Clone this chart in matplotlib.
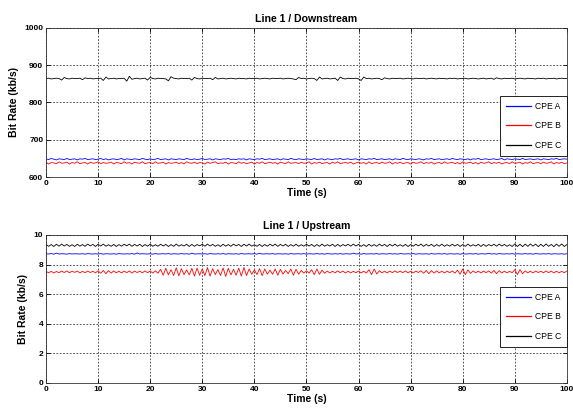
import numpy as np
import matplotlib
matplotlib.use('Agg')
import matplotlib.pyplot as plt

plt.rcParams['font.family'] = ['Liberation Sans', 'DejaVu Sans']

# time axis: one sample every 0.5 s
t = np.linspace(0, 100, 201)

# Downstream (kb/s): base level + deviations
down_base = {'CPE A': 648, 'CPE B': 638, 'CPE C': 864}
down_a = [1,-1,2,0,-2,1,0,-1,2,-1,0,1,-2,1,0,2,-1,0,1,-1,
          0,2,-1,1,-2,0,1,-1,0,2,-2,1,0,-1,1,0,-1,2,0,-1,
          1,-1,0,2,-1,0,1,-2,1,0,-1,1,0,-1,2,0,-1,1,-1,0,
          2,-1,0,1,-2,1,0,-1,1,0,2,-1,0,-1,1,0,1,-2,1,0,
          -1,1,0,2,-1,0,1,-1,0,1,-2,1,0,-1,2,0,-1,1,0,-1,
          1,0,-1,2,-1,0,1,-2,1,0,-1,1,0,2,-1,0,1,-1,0,1,
          -2,1,0,-1,1,0,2,-1,0,1,-1,0,1,-2,1,0,-1,2,0,-1,
          1,0,-1,1,0,-2,1,0,2,-1,0,1,-1,0,1,-1,2,0,-1,1,
          0,-1,1,-2,1,0,2,-1,0,1,-1,0,1,-1,0,2,-2,1,0,-1,
          1,0,-1,2,-1,0,1,-1,0,1,-2,1,0,-1,1,0,2,-1,0,1,0]
down_b = [2,-3,1,0,-2,3,-1,0,2,-3,1,-1,3,-2,0,1,-3,2,-1,0,
          3,-2,1,-1,0,2,-3,1,0,-2,3,-1,1,-3,2,0,-1,3,-2,0,
          1,-2,3,-1,0,2,-3,1,-1,0,2,-2,1,-3,3,0,-1,2,-2,1,
          0,-3,2,-1,1,3,-2,0,-1,2,-3,1,0,-2,3,-1,1,-2,0,2,
          -3,1,-1,3,-2,0,2,-1,1,-3,2,0,-2,3,-1,0,1,-2,2,-1,
          0,3,-3,1,-1,2,-2,0,1,-3,2,-1,3,-2,0,1,-1,2,-3,0,
          2,-1,1,-3,3,-2,0,1,-2,2,-1,0,3,-3,1,-1,2,-2,0,1,
          -3,2,-1,0,3,-2,1,-1,2,-3,0,1,-2,3,-1,0,2,-2,1,-3,
          3,-1,0,2,-2,1,-3,2,-1,0,3,-2,1,-1,2,-3,0,1,-2,3,
          -1,0,2,-3,1,-1,3,-2,0,1,-2,2,-1,0,3,-3,1,-1,2,-2,0]
down_c = [0,1,-1,0,1,0,-4,3,0,-1,1,0,0,1,-3,2,0,1,-1,0,
          0,1,-5,4,-1,0,1,-1,0,0,1,-7,6,-2,0,1,-1,0,1,-4,
          3,0,-1,1,0,0,-1,-6,5,1,0,-1,1,0,0,1,-4,3,0,-1,
          1,0,0,1,-3,3,-1,0,1,-1,0,1,0,-1,1,0,0,-1,1,0,
          0,1,-1,0,1,0,-1,1,0,0,1,-1,0,1,0,-1,-3,3,0,1,
          -1,0,1,0,-5,4,-1,0,1,-1,0,1,-5,4,0,-1,1,0,0,1,
          -1,-5,4,0,1,-1,0,1,0,-3,2,0,-1,1,0,0,1,-1,0,1,
          0,-1,1,0,0,1,-1,0,1,0,-1,1,0,0,-1,1,0,1,-1,0,
          0,1,-1,0,1,0,-1,0,1,-1,0,1,-2,2,0,-1,1,0,0,1,
          -1,0,1,0,-1,1,0,0,-1,1,0,1,-1,0,0,1,-1,0,1,0,0]

# Upstream (kb/s): base level + deviations in hundredths
up_base = {'CPE A': 8.72, 'CPE B': 7.50, 'CPE C': 9.30}
up_a = [1,-1,2,-2,5,-1,1,0,-2,2,-1,1,0,-1,1,-2,2,0,-1,1,
        -1,2,-2,1,0,-1,1,-2,2,0,-1,1,-1,2,-2,6,-1,1,0,-1,
        1,-2,2,-1,0,1,-1,2,-2,1,0,-1,2,-1,1,-2,5,-1,0,1,
        -1,1,-2,2,0,-1,1,-1,2,-2,1,0,-1,1,-2,2,-1,0,1,-1,
        2,-2,4,-1,0,1,-1,2,-2,1,0,-1,1,-2,2,-1,0,1,-1,2,
        -2,1,0,-1,2,-1,1,-2,2,0,-1,1,-1,2,-2,1,0,-1,5,-1,
        1,-2,2,-1,0,1,-1,2,-2,1,0,-1,2,-1,1,-2,2,0,-1,1,
        -1,2,-2,1,0,-1,1,-2,2,-1,0,1,-1,2,-2,1,0,-1,1,-2,
        2,-1,0,1,-1,2,-2,1,0,-1,4,-1,1,-2,2,0,-1,1,-1,2,
        -2,1,0,-1,2,-1,1,-2,2,0,-1,1,-1,2,-2,1,0,-1,1,-2,1]
up_b = [5,-6,4,-7,3,-5,6,-4,7,-6,5,-3,6,-7,4,-5,6,-4,5,-6,
        8,-9,10,-12,9,-8,7,-6,5,-7,6,-5,7,-8,6,-4,5,-6,7,-5,
        6,-7,8,-9,
        18,-22,25,-20,15,-24,28,-26,22,-18,14,-20,24,-28,26,-22,
        20,-25,30,-28,22,-18,16,-24,27,-30,25,-20,18,-22,26,-28,30,-24,20,-16,
        14,-18,22,-25,20,-15,12,-16,20,-22,18,-14,
        10,-12,20,-22,18,-15,10,-8,
        7,-8,15,-18,20,-16,12,-9,6,-7,5,-6,7,-5,6,-7,5,-6,4,-5,
        6,-7,5,-8,15,-18,20,-14,8,-6,5,-7,6,-5,7,-4,6,-5,7,-6,
        5,-7,6,-4,8,-9,10,-12,9,-8,7,-6,5,-7,6,-5,7,-8,12,-15,
        20,-18,14,-10,7,-6,5,-7,6,-5,7,-8,10,-12,9,-7,5,-6,4,-5,
        15,-18,16,-12,7,-6,5,-7,6,-4,5,-6,7,-5,6,-7,5,-6,4,-5,6]
up_c = [6,-7,5,-8,7,-6,8,-5,6,-7,4,-8,7,-6,5,-7,8,-4,6,-8,
        7,-5,8,-6,4,-7,6,-8,5,-6,7,-4,8,-7,6,-5,7,-8,5,-6,
        8,-7,4,-6,7,-5,6,-8,5,-7,8,-6,4,-5,7,-8,6,-7,5,-4,
        7,-6,8,-5,6,-7,4,-8,7,-6,5,-7,8,-4,6,-8,7,-5,8,-6,
        4,-7,6,-8,5,-6,7,-4,8,-7,6,-5,7,-8,5,-6,8,-7,4,-6,
        7,-5,6,-8,5,-7,8,-6,4,-5,7,-8,6,-7,5,-4,7,-6,8,-5,
        6,-7,4,-8,7,-6,5,-7,8,-4,6,-8,7,-5,8,-6,4,-7,6,-8,
        5,-6,7,-4,8,-7,6,-5,7,-8,5,-6,8,-7,4,-6,7,-5,6,-8,
        5,-7,8,-6,4,-5,7,-8,6,-7,5,-4,7,-6,8,-5,6,-7,4,-8,
        9,-8,7,-9,8,-7,9,-6,8,-9,7,-8,9,-7,6,-9,8,-7,9,-8,5]

colors = {'CPE A': 'blue', 'CPE B': 'red', 'CPE C': 'black'}

fig = plt.figure(figsize=(5.73, 4.09), dpi=100)
ax1 = fig.add_axes([0.0803, 0.567, 0.909, 0.365])
ax2 = fig.add_axes([0.0803, 0.0636, 0.909, 0.362])

for name, dev in [('CPE A', down_a), ('CPE B', down_b), ('CPE C', down_c)]:
    ax1.plot(t, down_base[name] + np.array(dev), color=colors[name], lw=0.6, label=name)
for name, dev in [('CPE A', up_a), ('CPE B', up_b), ('CPE C', up_c)]:
    ax2.plot(t, up_base[name] + np.array(dev) / 100.0, color=colors[name], lw=0.6, label=name)

ax1.set_ylim(600, 1000)
ax1.set_yticks([600, 700, 800, 900, 1000])
ax2.set_ylim(0, 10)
ax2.set_yticks([0, 2, 4, 6, 8, 10])

for ax, title, anchor in [(ax1, 'Line 1 / Downstream', 0.543), (ax2, 'Line 1 / Upstream', 0.649)]:
    ax.set_xlim(0, 100)
    ax.set_xticks(range(0, 101, 10))
    ax.grid(True, linestyle=(0, (2, 2)), color='black', lw=0.6, alpha=0.8)
    ax.tick_params(direction='in', length=3, width=0.6, labelsize=6, pad=2,
                   top=True, right=True)
    for lbl in ax.get_xticklabels() + ax.get_yticklabels():
        lbl.set_fontweight('bold')
    for sp in ax.spines.values():
        sp.set_linewidth(0.6)
        sp.set_color('#333333')
    ax.set_title(title, fontsize=7.6, fontweight='bold', pad=4.5)
    ax.set_xlabel('Time (s)', fontsize=7.5, fontweight='bold', labelpad=1)
    ax.set_ylabel('Bit Rate (kb/s)', fontsize=7.5, fontweight='bold', labelpad=4)
    leg = ax.legend(loc='upper right', bbox_to_anchor=(1.0, anchor), fontsize=6.2,
                    fancybox=False, edgecolor='black', framealpha=1,
                    handlelength=2.9, labelspacing=1.2, borderpad=0.7,
                    handletextpad=0.45, borderaxespad=0)
    leg.get_frame().set_linewidth(0.6)
    for line in leg.get_lines():
        line.set_linewidth(0.9)

fig.savefig('out.png', dpi=100)
